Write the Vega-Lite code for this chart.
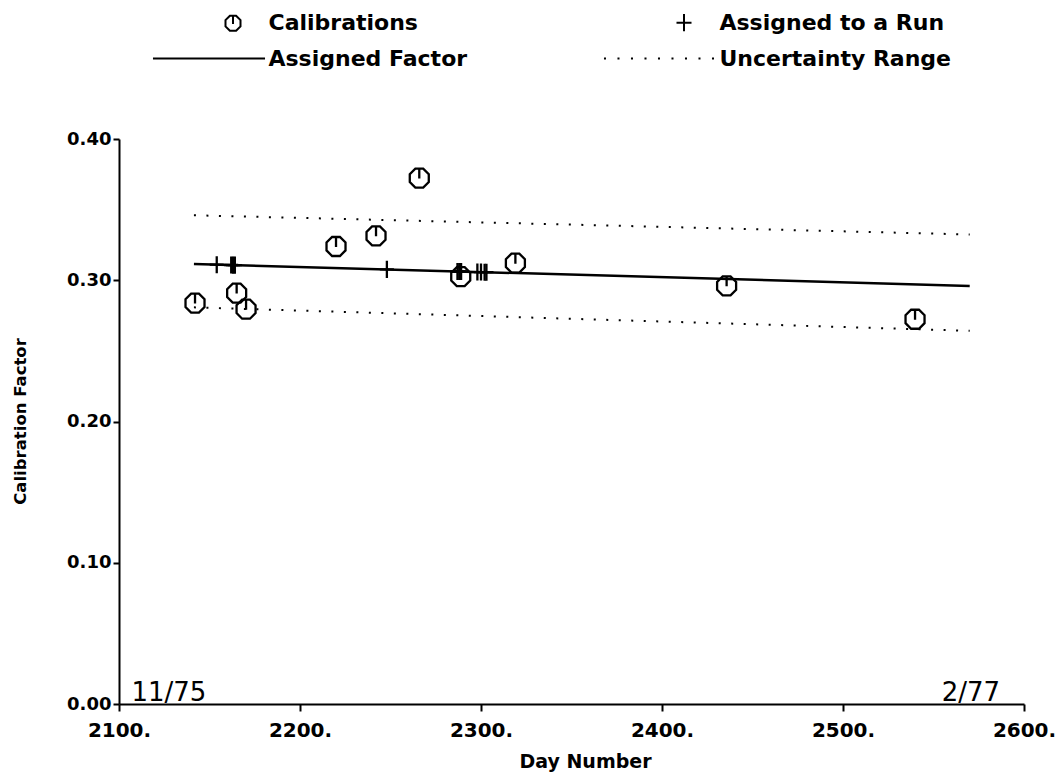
{
  "$schema": "https://vega.github.io/schema/vega-lite/v6.json",
  "width": 905,
  "height": 565,
  "autosize": {"type": "none"},
  "padding": {"left": 119, "top": 139, "right": 33, "bottom": 68},
  "background": "white",
  "datasets": {
    "lines": [
      {"series": "Assigned Factor", "bound": "mid", "day": 2141.4, "value": 0.3115},
      {"series": "Assigned Factor", "bound": "mid", "day": 2570, "value": 0.2960},
      {"series": "Uncertainty Range", "bound": "upper", "day": 2141.4, "value": 0.3460},
      {"series": "Uncertainty Range", "bound": "upper", "day": 2570, "value": 0.3324},
      {"series": "Uncertainty Range", "bound": "lower", "day": 2141.4, "value": 0.2808},
      {"series": "Uncertainty Range", "bound": "lower", "day": 2570, "value": 0.2642}
    ],
    "points": [
      {"series": "Calibrations", "day": 2142.0, "value": 0.2838},
      {"series": "Calibrations", "day": 2165.0, "value": 0.2909},
      {"series": "Calibrations", "day": 2170.2, "value": 0.2795},
      {"series": "Calibrations", "day": 2219.9, "value": 0.3239},
      {"series": "Calibrations", "day": 2242.0, "value": 0.3314},
      {"series": "Calibrations", "day": 2265.9, "value": 0.3723},
      {"series": "Calibrations", "day": 2288.8, "value": 0.3026},
      {"series": "Calibrations", "day": 2319.0, "value": 0.3121},
      {"series": "Calibrations", "day": 2435.7, "value": 0.2960},
      {"series": "Calibrations", "day": 2539.8, "value": 0.2724},
      {"series": "Assigned to a Run", "day": 2154, "value": 0.3110},
      {"series": "Assigned to a Run", "day": 2162, "value": 0.3108},
      {"series": "Assigned to a Run", "day": 2163, "value": 0.3107},
      {"series": "Assigned to a Run", "day": 2164, "value": 0.3107},
      {"series": "Assigned to a Run", "day": 2248, "value": 0.3077},
      {"series": "Assigned to a Run", "day": 2287, "value": 0.3062},
      {"series": "Assigned to a Run", "day": 2288, "value": 0.3062},
      {"series": "Assigned to a Run", "day": 2289, "value": 0.3062},
      {"series": "Assigned to a Run", "day": 2298, "value": 0.3058},
      {"series": "Assigned to a Run", "day": 2300, "value": 0.3058},
      {"series": "Assigned to a Run", "day": 2302, "value": 0.3057},
      {"series": "Assigned to a Run", "day": 2303, "value": 0.3057}
    ],
    "notes": [
      {"label": "11/75", "day": 2127.6, "value": 0},
      {"label": "2/77", "day": 2570.7, "value": 0}
    ]
  },
  "config": {
    "view": {"stroke": null},
    "font": "DejaVu Sans",
    "axis": {
      "grid": false,
      "domainColor": "black",
      "domainWidth": 2,
      "tickColor": "black",
      "tickWidth": 2,
      "labelColor": "black",
      "titleColor": "black",
      "labelFont": "DejaVu Sans",
      "labelFontWeight": "bold",
      "titleFont": "DejaVu Sans",
      "titleFontWeight": "bold",
      "labelFlush": false,
      "labelOverlap": false
    }
  },
  "resolve": {"scale": {"shape": "independent"}, "legend": {"shape": "independent"}},
  "encoding": {
    "x": {
      "field": "day",
      "type": "quantitative",
      "scale": {"domain": [2100, 2600], "nice": false, "zero": false},
      "axis": {
        "values": [2100, 2200, 2300, 2400, 2500, 2600],
        "labelExpr": "format(datum.value, 'd') + '.'",
        "labelFontSize": 20,
        "tickSize": 7,
        "labelPadding": 9,
        "title": "Day Number",
        "titleFontSize": 19,
        "titleX": 466,
        "titleY": 63,
        "titleAlign": "center",
        "titleBaseline": "alphabetic"
      }
    },
    "y": {
      "field": "value",
      "type": "quantitative",
      "scale": {"domain": [0, 0.4], "nice": false, "zero": false},
      "axis": {
        "values": [0, 0.1, 0.2, 0.3, 0.4],
        "format": ".2f",
        "labelFontSize": 18,
        "tickSize": 6,
        "labelPadding": 2,
        "title": "Calibration Factor",
        "titleFontSize": 16.5,
        "titleAngle": -90,
        "titleX": -99,
        "titleY": 282,
        "titleAlign": "center",
        "titleBaseline": "middle"
      }
    }
  },
  "layer": [
    {
      "data": {"name": "lines"},
      "transform": [{"filter": "datum.series === 'Assigned Factor'"}],
      "mark": {"type": "line", "color": "black", "strokeWidth": 2.5},
      "encoding": {}
    },
    {
      "data": {"name": "lines"},
      "transform": [{"filter": "datum.series === 'Uncertainty Range'"}],
      "mark": {"type": "line", "color": "black", "strokeWidth": 2, "strokeDash": [2, 10.5]},
      "encoding": {"detail": {"field": "bound", "type": "nominal"}}
    },
    {
      "data": {"name": "points"},
      "mark": {"type": "point", "filled": false, "color": "black", "strokeWidth": 2.3, "opacity": 1, "size": 361},
      "encoding": {
        "shape": {
          "field": "series",
          "type": "nominal",
          "scale": {
            "domain": ["Calibrations", "Assigned to a Run"],
            "range": [
              "M-0.414,-1L0.414,-1L1,-0.414L1,0.414L0.414,1L-0.414,1L-1,0.414L-1,-0.414ZM0,-1V0.05",
              "M-0.74,0H0.74M0,-0.9V0.9"
            ]
          },
          "legend": null
        }
      }
    },
    {
      "data": {"name": "points"},
      "transform": [{"filter": "false"}],
      "mark": {"type": "point", "filled": false, "color": "black", "strokeWidth": 2, "opacity": 1, "size": 225},
      "encoding": {
        "shape": {
          "field": "series",
          "type": "nominal",
          "scale": {
            "domain": ["Calibrations", "Assigned to a Run", "Assigned Factor", "Uncertainty Range"],
            "range": [
              "M-10.67,0M4.27,0M-0.414,-1L0.414,-1L1,-0.414L1,0.414L0.414,1L-0.414,1L-1,0.414L-1,-0.414ZM0,-1V0.1",
              "M-10.67,0M4.27,0M-1,0H1M0,-1.15V1.15",
              "M-10.67,0H4.27",
              "M-10.67,0h0.27M-8.87,0h0.27M-7.07,0h0.27M-5.27,0h0.27M-3.47,0h0.27M-1.67,0h0.27M0.13,0h0.27M1.93,0h0.27M3.73,0h0.27M4.27,0"
            ]
          },
          "legend": {
            "orient": "none",
            "legendX": 103,
            "legendY": -127.5,
            "direction": "horizontal",
            "columns": 2,
            "title": null,
            "symbolSize": 225,
            "symbolStrokeWidth": 2,
            "symbolStrokeColor": "black",
            "symbolFillColor": "transparent",
            "symbolOpacity": 1,
            "labelFont": "DejaVu Sans",
            "labelFontWeight": "bold",
            "labelFontSize": 22,
            "labelColor": "black",
            "labelOffset": 24.5,
            "labelLimit": 400,
            "columnPadding": 131,
            "rowPadding": 12
          }
        }
      }
    },
    {
      "data": {"name": "notes"},
      "mark": {"type": "text", "color": "black", "font": "DejaVu Sans", "fontSize": 26, "align": "center", "baseline": "alphabetic", "dy": -3},
      "encoding": {"text": {"field": "label", "type": "nominal"}}
    }
  ]
}
